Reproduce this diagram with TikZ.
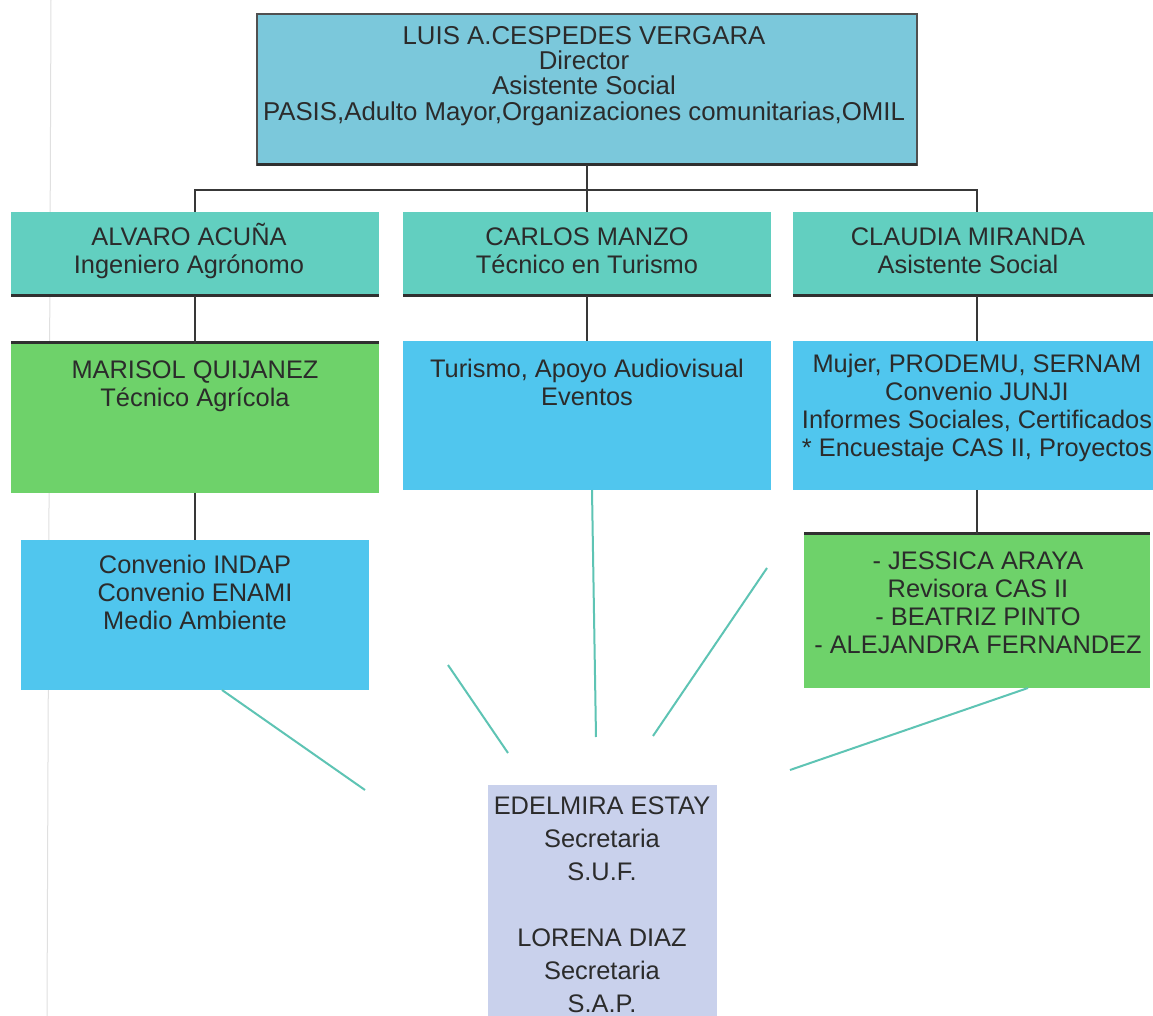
\documentclass[tikz,border=0pt]{standalone}
\usepackage{fontspec}
\setmainfont{Liberation Sans}
\definecolor{topc}{HTML}{7BC8DB}
\definecolor{rowc}{HTML}{62CFC0}
\definecolor{greenc}{HTML}{6ED26A}
\definecolor{bluec}{HTML}{50C6EE}
\definecolor{secc}{HTML}{C9D1EC}
\definecolor{tealc}{HTML}{5EC4B4}
\definecolor{linec}{HTML}{383838}
\definecolor{shadc}{HTML}{303030}
\definecolor{bordc}{HTML}{505050}
\definecolor{txtc}{HTML}{2B2B2B}
\begin{document}
\begin{tikzpicture}[x=0.5pt,y=-0.5pt,
  every node/.style={inner sep=0pt, outer sep=0pt},
  box/.style={rectangle, draw=none},
  txt/.style={align=center, text=txtc, font=\fontsize{12.7}{14}\selectfont},
  toptxt/.style={txt, font=\fontsize{12.9}{12.6}\selectfont},
  sectxt/.style={txt, font=\fontsize{12.7}{16.5}\selectfont},
  conn/.style={draw=linec, line width=0.8pt},
  tealln/.style={draw=tealc, line width=1pt},
  shadowln/.style={draw=shadc, line width=1.5pt}]
\useasboundingbox (0,0) rectangle (1153,1016);
\fill[white] (0,0) rectangle (1153,1016);
\draw[black!12, line width=0.5pt] (51,0) -- (47,1016);

% top box
\node[box, fill=topc, draw=bordc, line width=0.7pt, minimum width=330pt, minimum height=75.5pt] (top) at (587,89.5) {};
\draw[shadowln] (top.south west) -- (top.south east);
\node[toptxt] (topT) at (584,76) {LUIS A.CESPEDES VERGARA\\Director\\Asistente Social\\PASIS,Adulto Mayor,Organizaciones comunitarias,OMIL};

% row 2
\node[box, fill=rowc, minimum width=184pt, minimum height=42pt] (alvaro) at (195,254) {};
\node[box, fill=rowc, minimum width=184pt, minimum height=42pt] (carlos) at (587,254) {};
\node[box, fill=rowc, minimum width=184pt, minimum height=42pt] (claudia) at (977,254) {};
\draw[shadowln] (alvaro.south west) -- (alvaro.south east);
\draw[shadowln] (carlos.south west) -- (carlos.south east);
\draw[shadowln] (claudia.south west) -- (claudia.south east);
\node[txt] (alvaroT) at (189,251) {ALVARO ACUÑA\\Ingeniero Agrónomo};
\node[txt] (carlosT) at (587,251) {CARLOS MANZO\\Técnico en Turismo};
\node[txt] (claudiaT) at (968,251) {CLAUDIA MIRANDA\\Asistente Social};

% row 3
\node[box, fill=greenc, minimum width=184pt, minimum height=75pt] (marisol) at (195,418) {};
\draw[shadowln] (marisol.north west) -- (marisol.north east);
\node[box, fill=bluec, minimum width=184pt, minimum height=74.5pt] (turismo) at (587,415.5) {};
\node[box, fill=bluec, minimum width=184pt, minimum height=74.5pt] (mujer) at (977,415.5) {};
\node[txt] (marisolT) at (195,386) {MARISOL QUIJANEZ\\Técnico Agrícola};
\node[txt] (turismoT) at (587,382) {Turismo, Apoyo Audiovisual\\Eventos};
\node[txt] (mujerT) at (977,408) {Mujer, PRODEMU, SERNAM\\Convenio JUNJI\\Informes Sociales, Certificados\\* Encuestaje CAS II, Proyectos};

% row 4
\node[box, fill=bluec, minimum width=174pt, minimum height=75pt] (convenio) at (195,615) {};
\node[txt] (convenioT) at (195,592) {Convenio INDAP\\Convenio ENAMI\\Medio Ambiente};
\node[box, fill=greenc, minimum width=173pt, minimum height=77pt] (jessica) at (977,611) {};
\draw[shadowln] (jessica.north west) -- (jessica.north east);
\node[txt] (jessicaT) at (978,603) {- JESSICA ARAYA\\Revisora CAS II\\- BEATRIZ PINTO\\- ALEJANDRA FERNANDEZ};

% secretary
\node[box, fill=secc, minimum width=114.5pt, minimum height=127.5pt] (sec) at (602.5,912.5) {};
\node[sectxt] (secT) at (602,905) {EDELMIRA ESTAY\\Secretaria\\S.U.F.\\[16.5pt]LORENA DIAZ\\Secretaria\\S.A.P.};

% hierarchy connectors
\draw[conn] (carlos.north) -- (top.south);
\draw[conn] (alvaro.north) -- ++(0,-22) -| (claudia.north);
\draw[conn] (alvaro.south) -- (marisol.north);
\draw[conn] (carlos.south) -- (turismo.north);
\draw[conn] (claudia.south) -- (mujer.north);
\draw[conn] (marisol.south) -- (convenio.north);
\draw[conn] (mujer.south) -- (jessica.north);

% teal lines toward the secretary box
\coordinate (a1) at (222,690); \coordinate (b1) at (365,790);
\coordinate (a2) at (448,665); \coordinate (b2) at (508,753);
\coordinate (a3) at (592,490); \coordinate (b3) at (596,737);
\coordinate (a4) at (767,568); \coordinate (b4) at (653,736);
\coordinate (a5) at (1028,688); \coordinate (b5) at (790,770);
\draw[tealln] (a1) -- (b1);
\draw[tealln] (a2) -- (b2);
\draw[tealln] (a3) -- (b3);
\draw[tealln] (a4) -- (b4);
\draw[tealln] (a5) -- (b5);
\end{tikzpicture}
\end{document}
